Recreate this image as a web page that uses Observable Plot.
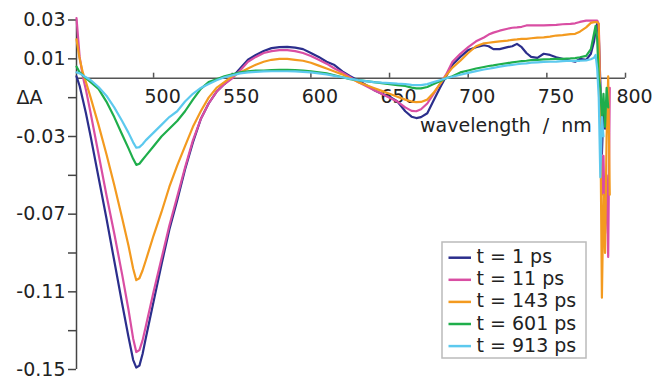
<!DOCTYPE html>
<html>
<head>
<meta charset="utf-8">
<script src="https://cdn.jsdelivr.net/npm/d3@7"></script>
<script src="https://cdn.jsdelivr.net/npm/@observablehq/plot@0.6"></script>
<style>
  html, body { margin: 0; padding: 0; background: #fff; }
  #chart { width: 655px; height: 381px; }
</style>
</head>
<body>
<div id="chart"></div>
<script>
// Wavelengths (nm)
const wavelengths = [451,453,455,457,460,465,470,475,480,484,
  487,489,491,493,495,500,505,510,515,520,
  525,530,535,540,545,550,555,560,565,570,
  575,580,585,590,595,600,605,610,615,620,
  625,630,635,640,645,650,655,660,664,667,
  670,674,678,682,686,690,695,700,705,710,
  713,716,720,725,728,731,734,737,740,744,
  748,752,756,760,765,768,771,775,778,780,
  781,782,783,784,785,786,787,788,789,790];

const t1ps = [0.001,-0.004,-0.011,-0.018,-0.030,-0.051,-0.072,-0.094,-0.116,-0.133,
  -0.145,-0.149,-0.148,-0.142,-0.134,-0.115,-0.096,-0.078,-0.063,-0.047,
  -0.033,-0.021,-0.013,-0.007,-0.003,0.0005,0.005,0.0095,0.012,0.014,
  0.0155,0.016,0.0162,0.0158,0.015,0.013,0.011,0.0085,0.0068,0.0035,
  0.001,-0.0012,-0.0035,-0.006,-0.008,-0.0095,-0.012,-0.017,-0.0198,-0.0205,
  -0.020,-0.018,-0.0115,-0.005,0.001,0.007,0.011,0.0145,0.016,0.017,
  0.0165,0.015,0.015,0.016,0.0165,0.0177,0.016,0.013,0.011,0.0105,
  0.0126,0.012,0.0108,0.010,0.009,0.0085,0.010,0.0095,0.0126,0.019,
  0.0246,0.028,0.022,-0.002,-0.039,-0.016,-0.026,null,null,null];

const t11ps = [0.031,0.011,0.001,-0.006,-0.018,-0.039,-0.060,-0.080,-0.101,-0.119,
  -0.134,-0.141,-0.140,-0.135,-0.128,-0.110,-0.093,-0.076,-0.061,-0.046,
  -0.032,-0.021,-0.013,-0.007,-0.003,0.0,0.004,0.0085,0.011,0.013,
  0.014,0.0145,0.0145,0.014,0.013,0.0115,0.0095,0.0075,0.005,0.003,
  0.0005,-0.002,-0.004,-0.006,-0.008,-0.010,-0.012,-0.015,-0.0168,-0.017,
  -0.016,-0.013,-0.008,-0.003,0.002,0.0085,0.0126,0.016,0.019,0.021,
  0.0225,0.0235,0.0245,0.0255,0.026,0.0262,0.0265,0.0272,0.0272,0.0272,
  0.0272,0.0274,0.0275,0.0278,0.028,0.0283,0.029,0.0297,0.0297,0.0297,
  0.0297,0.0297,0.028,-0.010,-0.060,-0.040,-0.080,-0.050,-0.092,-0.005];

const t143ps = [0.020,0.010,0.003,-0.002,-0.010,-0.024,-0.039,-0.055,-0.072,-0.086,
  -0.098,-0.104,-0.103,-0.099,-0.094,-0.081,-0.069,-0.056,-0.045,-0.035,
  -0.025,-0.017,-0.010,-0.005,-0.002,0.001,0.003,0.005,0.007,0.0085,
  0.0095,0.010,0.010,0.0095,0.009,0.008,0.0065,0.005,0.0035,0.002,
  0.0,-0.002,-0.0035,-0.005,-0.0065,-0.008,-0.0095,-0.011,-0.012,-0.0123,
  -0.0122,-0.011,-0.0075,-0.003,0.0015,0.0055,0.009,0.013,0.0165,0.018,
  0.0183,0.0186,0.019,0.0194,0.0198,0.020,0.0203,0.0203,0.0206,0.0209,
  0.0211,0.0214,0.022,0.0222,0.0227,0.0229,0.024,0.0262,0.0285,0.0289,
  0.0289,0.0289,0.028,-0.020,-0.113,-0.060,-0.090,-0.030,0.001,-0.060];

const t601ps = [0.006,0.003,0.0015,0.0,-0.002,-0.0055,-0.012,-0.020,-0.029,-0.036,
  -0.0415,-0.0446,-0.044,-0.042,-0.040,-0.035,-0.030,-0.026,-0.022,-0.017,
  -0.011,-0.0055,-0.002,-0.0005,0.001,0.002,0.003,0.0035,0.004,0.004,
  0.0042,0.0043,0.0043,0.0042,0.004,0.0035,0.003,0.0025,0.0015,0.0005,
  -0.0005,-0.001,-0.0015,-0.002,-0.0025,-0.003,-0.0035,-0.004,-0.0048,-0.0052,
  -0.0052,-0.0045,-0.003,-0.0015,0.0,0.001,0.003,0.004,0.005,0.0058,
  0.0063,0.0066,0.0072,0.0078,0.0082,0.0085,0.0088,0.009,0.0093,0.0095,
  0.0097,0.0098,0.010,0.010,0.0102,0.0104,0.0108,0.0115,0.015,0.023,
  0.027,0.020,0.0,-0.005,-0.020,-0.008,-0.025,-0.005,-0.015,null];

const t913ps = [0.003,0.0025,0.0015,0.0005,-0.001,-0.0045,-0.009,-0.015,-0.022,-0.028,
  -0.033,-0.0358,-0.0355,-0.034,-0.032,-0.028,-0.024,-0.020,-0.017,-0.012,
  -0.008,-0.005,-0.003,-0.001,0.0005,0.0015,0.0025,0.003,0.0033,0.0035,
  0.0036,0.0036,0.0036,0.0035,0.0033,0.003,0.0025,0.002,0.0012,0.0005,
  -0.0003,-0.001,-0.0015,-0.002,-0.0023,-0.0025,-0.0028,-0.003,-0.0034,-0.0035,
  -0.0035,-0.003,-0.002,-0.001,0.0,0.0008,0.0018,0.0028,0.0037,0.0045,
  0.0049,0.0053,0.006,0.0066,0.0069,0.0072,0.0075,0.0077,0.008,0.0082,
  0.0084,0.0085,0.0086,0.0088,0.009,0.009,0.009,0.0092,0.0098,0.0105,
  0.012,0.005,-0.010,-0.051,-0.020,-0.030,null,null,null,null];

const seriesLabels = ["t = 1 ps", "t = 11 ps", "t = 143 ps", "t = 601 ps", "t = 913 ps"];
const seriesValues = [t1ps, t11ps, t143ps, t601ps, t913ps];
const seriesColors = ["#2b2e8c", "#d94ea3", "#f39a1f", "#1fae4b", "#5cc9ee"];

const xTicks = [500, 550, 600, 650, 700, 750, 800];
const xTickLabels = ["500", "550", "600", "650", "700", "750", "800"];
const yTicks = [0.03, 0.01, -0.01, -0.03, -0.05, -0.07, -0.09, -0.11, -0.13, -0.15];
const yTickLabels = ["0.03", "0.01", "", "-0.03", "", "-0.07", "", "-0.11", "", "-0.15"];

const rows = seriesLabels.flatMap((s, k) =>
  wavelengths.map((w, i) => ({s, w, v: seriesValues[k][i]})));

const yLabelMap = new Map(yTicks.map((t, i) => [t.toFixed(2), yTickLabels[i]]));
const FONT = "DejaVu Sans, Verdana, sans-serif";

const lineMarks = seriesLabels.map((s, k) =>
  Plot.line(rows.filter(d => d.s === s), {
    x: "w", y: "v", stroke: seriesColors[k], strokeWidth: 2.2,
    curve: "linear", strokeLinejoin: "round"
  }));

const chart = Plot.plot({
  width: 655,
  height: 381,
  marginLeft: 76,
  marginRight: 30,
  marginTop: 19.5,
  marginBottom: 12,
  style: {fontFamily: FONT, fontSize: "19px", background: "#fff", color: "#222"},
  x: {domain: [451, 800], axis: null},
  y: {domain: [-0.15, 0.03]},
  marks: [
    Plot.ruleY([0], {stroke: "#555", strokeWidth: 1.5}),
    Plot.ruleX([451], {y1: -0.15, y2: 0.03, stroke: "#444", strokeWidth: 1.5}),
    Plot.ruleX(xTicks, {x: d => d, y1: 0, y2: 0.0026, stroke: "#555", strokeWidth: 1.5}),
    Plot.axisY({
      ticks: yTicks, tickSize: 8, tickPadding: 3, label: null,
      tickFormat: d => yLabelMap.get(d.toFixed(2)) ?? "",
      fontSize: 19, stroke: "#444", strokeWidth: 1.5, fill: "#222"
    }),
    Plot.text(xTicks, {
      x: d => d, y: 0, text: (d, i) => xTickLabels[i],
      dy: 19, dx: 9, fontSize: 19, fill: "#222", textAnchor: "middle"
    }),
    Plot.text(["ΔA"], {frameAnchor: "left", y: -0.01, dx: -47, fontSize: 19, fill: "#222", textAnchor: "middle"}),
    Plot.text(["wavelength  /  nm"], {x: 724, y: -0.0243, fontSize: 19, fill: "#222", textAnchor: "middle"}),
    ...lineMarks
  ]
});

document.getElementById("chart").appendChild(chart);

// Legend inside the plot area
const svg = d3.select(chart);
const lg = svg.append("g")
  .attr("font-family", FONT).attr("font-size", 19).attr("fill", "#222")
  .attr("text-anchor", "start");
lg.append("rect")
  .attr("x", 442).attr("y", 242).attr("width", 144).attr("height", 116)
  .attr("fill", "#fff").attr("stroke", "#bbb").attr("stroke-width", 1.5);
seriesLabels.forEach((s, k) => {
  const yc = 257.7 + k * 22.1;
  lg.append("line")
    .attr("x1", 448.5).attr("x2", 471).attr("y1", yc).attr("y2", yc)
    .attr("stroke", seriesColors[k]).attr("stroke-width", 2.5);
  lg.append("text").attr("x", 476.5).attr("y", yc + 5.5)
    .attr("text-anchor", "start").text(s);
});
</script>
</body>
</html>
